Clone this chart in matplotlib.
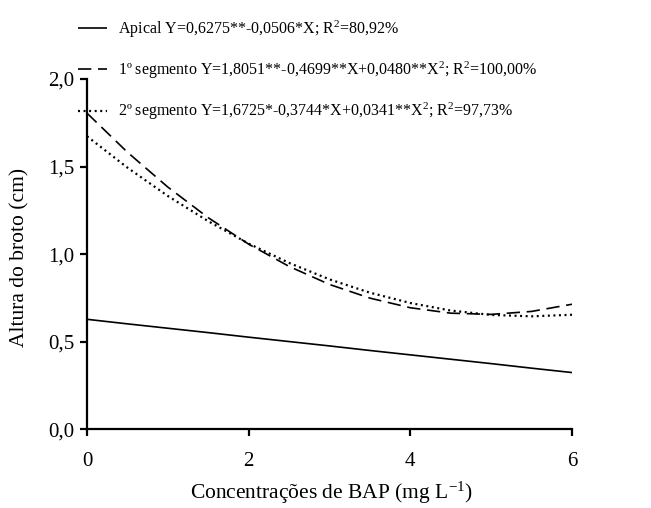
import matplotlib
matplotlib.use("Agg")
import matplotlib.pyplot as plt

plt.rcParams['font.family'] = ['Liberation Serif', 'DejaVu Serif']
plt.rcParams['mathtext.fontset'] = 'custom'
plt.rcParams['mathtext.rm'] = 'Liberation Serif'
plt.rcParams['mathtext.it'] = 'Liberation Serif:italic'

# Data
bap = [0, 0.5, 1, 1.5, 2, 2.5, 3, 3.5, 4, 4.5, 5, 5.5, 6]
apical = [0.628, 0.602, 0.577, 0.552, 0.526, 0.501, 0.476, 0.450, 0.425, 0.400, 0.375, 0.349, 0.324]
seg1 = [1.805, 1.582, 1.383, 1.208, 1.057, 0.930, 0.827, 0.749, 0.694, 0.663, 0.656, 0.673, 0.714]
seg2 = [1.673, 1.494, 1.332, 1.188, 1.060, 0.950, 0.856, 0.780, 0.721, 0.678, 0.653, 0.645, 0.654]

labels = [
    "Apical Y=0,6275**-0,0506*X; R$^{2}$=80,92%",
    "1º segmento Y=1,8051**-0,4699**X+0,0480**X$^{2}$; R$^{2}$=100,00%",
    "2º segmento Y=1,6725*-0,3744*X+0,0341**X$^{2}$; R$^{2}$=97,73%",
]
xticks = [0, 2, 4, 6]
yticks = [0.0, 0.5, 1.0, 1.5, 2.0]
yticklabels = ["0,0", "0,5", "1,0", "1,5", "2,0"]

W, H = 651, 508
fig = plt.figure(figsize=(W / 100, H / 100), dpi=100)
ax = fig.add_axes([87 / W, 1 - 429.3 / H, (572 - 87) / W, (429.3 - 79) / H])

l1, = ax.plot(bap, apical, color='black', lw=1.2, solid_capstyle='butt')
l2, = ax.plot(bap, seg1, color='black', lw=1.2, dashes=(8, 4))
l3, = ax.plot(bap, seg2, color='black', lw=1.6, linestyle=(0, (0.9, 1.6)))

ax.set_xlim(0, 6)
ax.set_ylim(0, 2.0)
ax.set_xticks(xticks)
ax.set_xticklabels([str(v) for v in xticks])
ax.set_yticks(yticks)
ax.set_yticklabels(yticklabels)
for s in ['top', 'right']:
    ax.spines[s].set_visible(False)
for s in ['left', 'bottom']:
    ax.spines[s].set_linewidth(1.6)
ax.tick_params(axis='both', direction='out', length=5, width=1.6, labelsize=15)
ax.tick_params(axis='x', pad=11)
ax.tick_params(axis='y', pad=4)

fig.text(331 / W, 1 - 499 / H, "Concentrações de BAP (mg L$^{-1}$)", fontsize=15.5,
         ha='center', va='baseline')
fig.text(20 / W, 1 - 257 / H, "Altura do broto (cm)", fontsize=15.5,
         ha='center', va='center', rotation=90)

fig.legend([l1, l2, l3], labels, loc='upper left', bbox_to_anchor=(72 / W, 1 - 12 / H),
           frameon=False, fontsize=11.5, handlelength=1.8, handletextpad=0.7,
           labelspacing=1.25, borderaxespad=0)

fig.savefig("out.png", dpi=100)
